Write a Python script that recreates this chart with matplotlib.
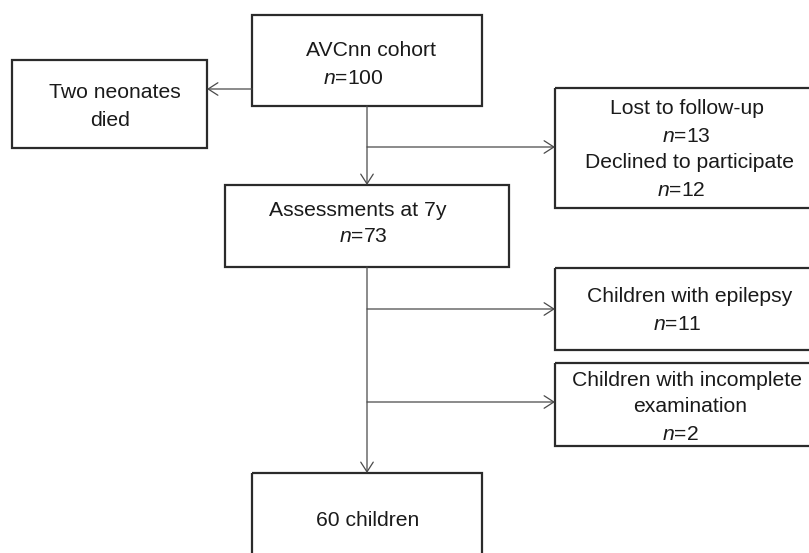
import matplotlib
matplotlib.use("Agg")
import matplotlib.pyplot as plt
from matplotlib.patches import Rectangle

plt.rcParams['font.family'] = ['Liberation Sans', 'DejaVu Sans']
plt.rcParams['mathtext.fontset'] = 'custom'
plt.rcParams['mathtext.it'] = 'Liberation Sans:italic'
plt.rcParams['mathtext.rm'] = 'Liberation Sans'

# ---- data (flow counts and labels) ----
cohort_label = "AVCnn cohort"
cohort_n = 100
died_label = ["Two neonates", "died"]
lost_label = "Lost to follow-up"
lost_n = 13
declined_label = "Declined to participate"
declined_n = 12
assess_label = "Assessments at 7y"
assess_n = 73
epilepsy_label = "Children with epilepsy"
epilepsy_n = 11
incomplete_label = ["Children with incomplete", "examination"]
incomplete_n = 2
final_n = 60
final_label = "children"

# ---- layout (pixel coordinates, y downward) ----
W, H = 809, 553
fig = plt.figure(figsize=(W / 100, H / 100), dpi=100)
ax = fig.add_axes([0, 0, 1, 1])
ax.set_xlim(0, W)
ax.set_ylim(H, 0)
ax.axis('off')

BOX_EC = '#2b2b2b'
LINE_C = '#4a4a4a'
FS = 15.2


def box(x0, y0, x1, y1):
    ax.add_patch(Rectangle((x0, y0), x1 - x0, y1 - y0, fill=False,
                           ec=BOX_EC, lw=1.6, clip_on=True, joinstyle='miter'))


def txt(x, y, s):
    ax.text(x, y, s, ha='center', va='center', fontsize=FS, color='#1a1a1a')


def nlab(n):
    return r"$\mathit{n}$=" + str(n)


def arrow(x0, y0, x1, y1):
    ax.annotate("", xy=(x1, y1), xytext=(x0, y0),
                arrowprops=dict(arrowstyle='->,head_length=0.7,head_width=0.45',
                                mutation_scale=10, color=LINE_C, lw=0.9,
                                shrinkA=0, shrinkB=0))


def line(x0, y0, x1, y1):
    ax.plot([x0, x1], [y0, y1], color=LINE_C, lw=0.9, solid_capstyle='butt')


# boxes
box(252, 15, 482, 106)      # cohort
box(12, 60, 207, 148)       # died
box(555, 88, 830, 208)      # lost/declined
box(225, 185, 509, 267)     # assessments
box(555, 268, 830, 350)     # epilepsy
box(555, 363, 830, 446)     # incomplete
box(252, 473, 482, 580)     # final

# connectors
spine_x = 367
arrow(252, 89, 207, 89)
arrow(spine_x, 106, spine_x, 185)
arrow(spine_x, 147, 555, 147)
arrow(spine_x, 267, spine_x, 473)
arrow(spine_x, 309, 555, 309)
arrow(spine_x, 402, 555, 402)

# texts
txt(371, 51, cohort_label)
txt(353, 78, nlab(cohort_n))
txt(115, 93, died_label[0])
txt(110, 121, died_label[1])
txt(687, 109, lost_label)
txt(686, 137, nlab(lost_n))
txt(690, 163, declined_label)
txt(681, 190, nlab(declined_n))
txt(358, 210, assess_label)
txt(363, 237, nlab(assess_n))
txt(690, 296, epilepsy_label)
txt(677, 325, nlab(epilepsy_n))
txt(687, 380, incomplete_label[0])
txt(690, 407, incomplete_label[1])
txt(680, 434, nlab(incomplete_n))
txt(368, 520, f"{final_n} {final_label}")

fig.savefig("out.png", dpi=100, facecolor='white')
